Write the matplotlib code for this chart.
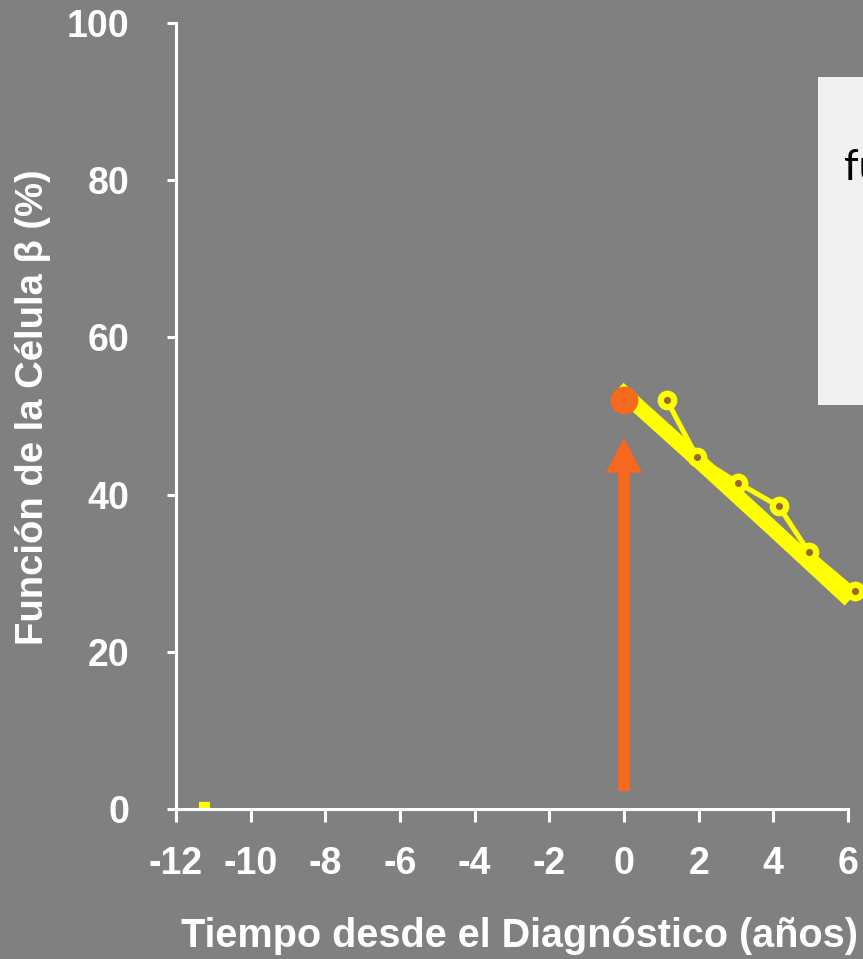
import matplotlib.pyplot as plt
from matplotlib.patches import FancyArrowPatch, Rectangle, ArrowStyle

# data
obs_x = [1.15, 1.95, 3.05, 4.15, 4.95, 6.2]
obs_y = [52.0, 44.8, 41.5, 38.5, 32.7, 27.7]
trend_x = [-0.15, 2.0, 4.0, 6.05]
trend_y = [53.5, 44.3, 35.6, 26.6]
diag_x = 0
diag_y = 52.0
arrow_y = [2.3, 47.2]
mark_x = [-11.38, -11.08]
mark_y = [0.45, 0.45]
xticks = [-12, -10, -8, -6, -4, -2, 0, 2, 4, 6]
yticks = [0, 20, 40, 60, 80, 100]

BG = '#808080'
YELLOW = '#FFFF00'
ORANGE = '#F7691C'
BROWN = '#996633'
NARROW = ['Liberation Sans Narrow', 'Liberation Sans', 'DejaVu Sans']

W, H = 863, 959
fig = plt.figure(figsize=(W / 100, H / 100), dpi=100, facecolor=BG)

x0, x1 = 176, 848
y0, y1 = 809, 23
ax = fig.add_axes([x0 / W, (H - y0) / H, (x1 - x0) / W, (y0 - y1) / H])
ax.set_facecolor(BG)

ax.plot(trend_x, trend_y, color=YELLOW, lw=11, solid_capstyle='butt', zorder=2, clip_on=False)
ax.plot(obs_x, obs_y, color=YELLOW, lw=3.6, marker='o', ms=9.7,
        mfc=BROWN, mec=YELLOW, mew=4.5, zorder=3, clip_on=False)
ax.plot([diag_x], [diag_y], 'o', color=ORANGE, ms=19, zorder=4)
ax.plot(mark_x, mark_y, color=YELLOW, lw=4.5, solid_capstyle='butt', zorder=2)

arr = FancyArrowPatch((diag_x, arrow_y[0]), (diag_x, arrow_y[1]),
                      arrowstyle=ArrowStyle.Simple(head_length=25, head_width=26, tail_width=8.5),
                      color=ORANGE, lw=0, shrinkA=0, shrinkB=0, mutation_scale=1, zorder=3)
ax.add_patch(arr)

ax.set_xlim(-12, 6)
ax.set_ylim(0, 100)
ax.set_xticks(xticks)
ax.set_xticklabels([str(t) for t in xticks])
ax.set_yticks(yticks)

for s in ['top', 'right']:
    ax.spines[s].set_visible(False)
for s in ['left', 'bottom']:
    ax.spines[s].set_color('white')
    ax.spines[s].set_linewidth(2.2)

ax.tick_params(axis='y', colors='white', direction='out', length=6.5, width=2.2, pad=27)
ax.tick_params(axis='x', colors='white', direction='out', length=9, width=2.2, pad=18)
for lab in ax.get_yticklabels():
    lab.set_fontfamily('Liberation Sans')
    lab.set_fontweight('bold')
    lab.set_fontsize(27)
for lab in ax.get_xticklabels():
    lab.set_fontfamily(NARROW)
    lab.set_fontweight('bold')
    lab.set_fontsize(27)

ax.set_xlabel('Tiempo desde el Diagnóstico (años)', color='white', fontsize=28.5,
              fontweight='bold', fontfamily='Liberation Sans')
ax.xaxis.label.set_va('baseline')
ax.xaxis.set_label_coords((519 - x0) / (x1 - x0), -(947 - y0) / (y0 - y1))
ax.set_ylabel('Función de la Célula β (%)', color='white', fontsize=27.5,
              fontweight='bold', fontfamily=NARROW)
ax.yaxis.label.set_va('center')
ax.yaxis.set_label_coords(-(x0 - 33) / (x1 - x0), (y0 - 407) / (y0 - y1))

# legend box, cut off by the right edge
fig.patches.append(Rectangle((818 / W, (H - 405) / H), 60 / W, 328 / H,
                             transform=fig.transFigure, facecolor='#F1F1F1',
                             edgecolor='none', zorder=1))
fig.text(844 / W, (H - 180) / H, 'fu', color='black', fontsize=30,
         fontfamily='Lato', va='baseline', ha='left', zorder=2)

fig.savefig('out.png', dpi=100, facecolor=BG)
